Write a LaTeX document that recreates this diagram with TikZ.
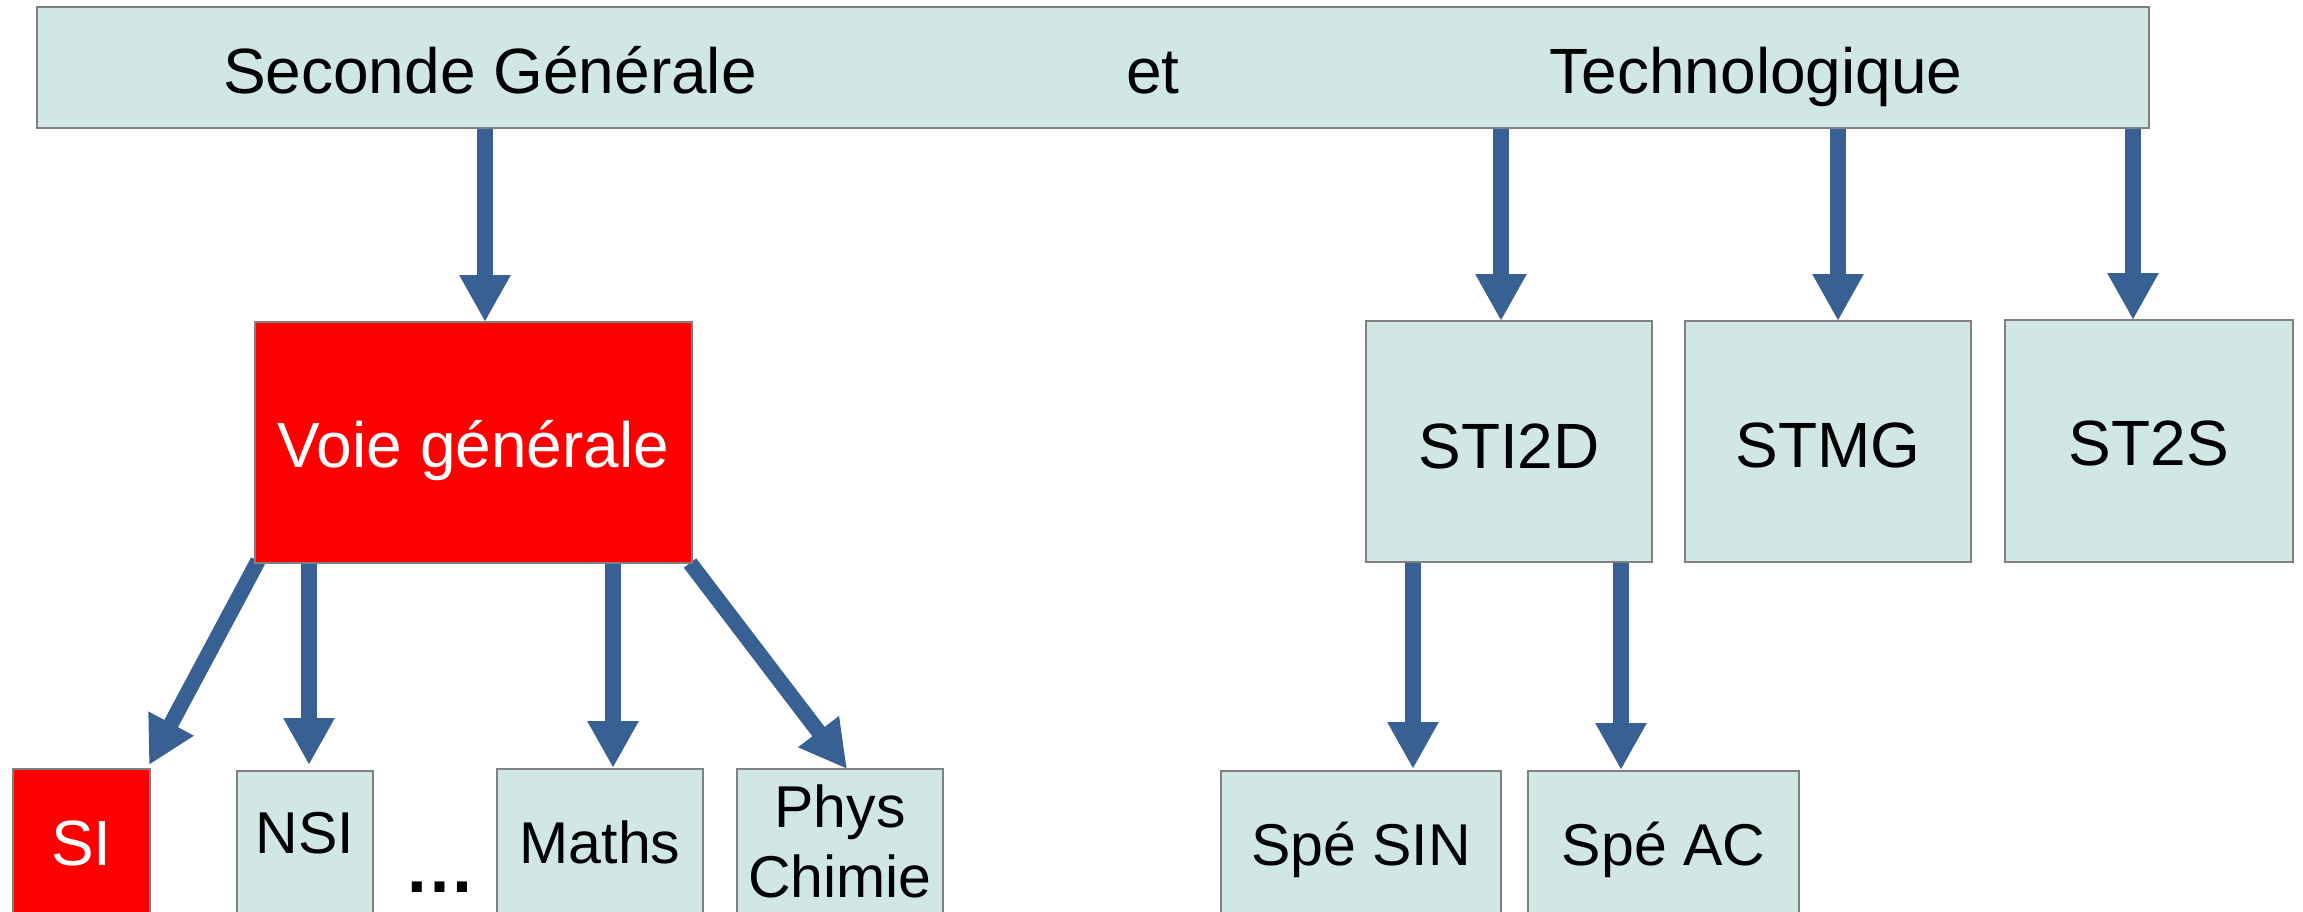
\documentclass[tikz,border=0pt]{standalone}
\usepackage{fontspec}
\setmainfont{Liberation Sans}
\usetikzlibrary{arrows.meta,backgrounds}

\definecolor{paleteal}{RGB}{208,231,229}
\definecolor{boxgrey}{RGB}{128,128,128}
\definecolor{arrowblue}{RGB}{56,96,146}
\definecolor{hotred}{RGB}{255,0,0}

\begin{document}
\begin{tikzpicture}[x=1pt,y=-1pt,
  box/.style={draw=boxgrey, line width=2pt, fill=paleteal, inner sep=0pt,
              outer sep=0pt, anchor=north west},
  redbox/.style={box, fill=hotred, text=white},
  big/.style={font=\fontsize{64}{77}\selectfont},
  small/.style={font=\fontsize{59}{70}\selectfont},
  link/.style={draw=arrowblue, line width=15.5pt,
               -{Triangle[length=47pt,width=48pt]}},
]
\useasboundingbox (0,0) rectangle (2303,911);
\clip (0,0) rectangle (2303,911);

% top bar
\node[box, minimum width=2112pt, minimum height=121pt] (bar) at (37,7) {};
\node[big, anchor=base, inner sep=0pt] (tsec) at (490,93) {Seconde Générale};
\node[big, anchor=base, inner sep=0pt] (tet) at (1153,93) {et};
\node[big, anchor=base, inner sep=0pt] (ttech) at (1756,93) {Technologique};

% second row
\node[redbox, big, minimum width=437pt, text height=145pt, text depth=96pt] (vg) at (255,322) {Voie générale};
\node[box, big, minimum width=286pt, text height=147pt, text depth=94pt] (sti) at (1366,321) {STI2D};
\node[box, big, minimum width=286pt, text height=146pt, text depth=95pt] (stmg) at (1685,321) {STMG};
\node[box, big, minimum width=288pt, text height=145pt, text depth=97pt] (st2s) at (2005,320) {ST2S};

% third row
\node[redbox, big, minimum width=137pt, text height=96pt, text depth=85pt] (si) at (13,769) {SI};
\node[box, small, minimum width=136pt, text height=82pt, text depth=97pt] (nsi) at (237,771) {NSI};
\node[box, small, minimum width=206pt, text height=94pt, text depth=87pt] (maths) at (497,769) {Maths};
\node[box, small, minimum width=206pt, text height=58pt, text depth=123pt] (phys) at (737,769)
  {\begin{tabular}[t]{@{}c@{}}Phys\\Chimie\end{tabular}};
\node[font=\fontsize{71}{80}\selectfont\bfseries, anchor=base, inner sep=0pt] (dots) at (440,892) {…};
\node[box, small, minimum width=280pt, text height=94pt, text depth=85pt] (sin) at (1221,771) {Spé SIN};
\node[box, small, minimum width=271pt, text height=94pt, text depth=85pt] (ac) at (1528,771) {Spé AC};

% arrow tips
\coordinate (vgin)   at ([xshift=11.5pt]vg.north);
\coordinate (stiin)  at ([xshift=-8pt]sti.north);
\coordinate (stmgin) at ([xshift=10pt]stmg.north);
\coordinate (st2sin) at ([xshift=-16pt]st2s.north);
\coordinate (nsiin)  at ([xshift=4pt,yshift=6pt]nsi.north);
\coordinate (mathsin) at ([xshift=13pt,yshift=1pt]maths.north);
\coordinate (sinin)  at ([xshift=52pt,yshift=2pt]sin.north);
\coordinate (acin)   at ([xshift=-42.5pt,yshift=1pt]ac.north);

\begin{pgfonlayer}{background}
  \draw[link] (vgin |- bar.south) -- (vgin);
  \draw[link] (stiin |- bar.south) -- (stiin);
  \draw[link] (stmgin |- bar.south) -- (stmgin);
  \draw[link] (st2sin |- bar.south) -- (st2sin);

  \draw[link] ([xshift=3pt,yshift=2pt]vg.south west) -- ([xshift=-1pt,yshift=4pt]si.north east);
  \draw[link] (nsiin |- vg.south) -- (nsiin);
  \draw[link] (mathsin |- vg.south) -- (mathsin);
  \draw[link] ([xshift=-2pt]vg.south east) -- ([xshift=7pt]phys.north);

  \draw[link] (sinin |- sti.south) -- (sinin);
  \draw[link] (acin |- sti.south) -- (acin);
\end{pgfonlayer}
\end{tikzpicture}
\end{document}
